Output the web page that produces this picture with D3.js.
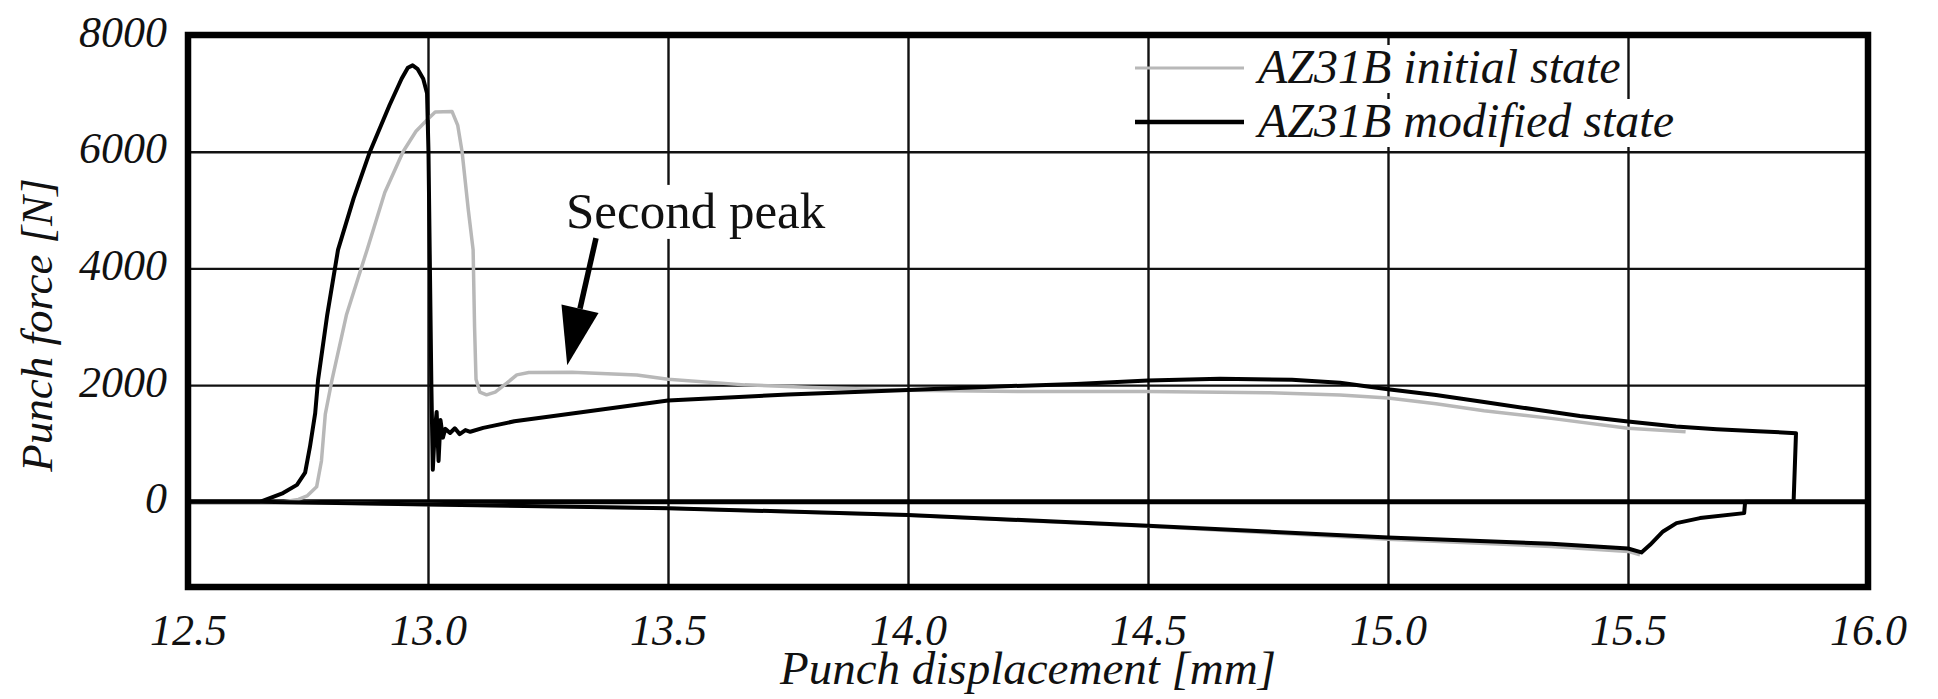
<!DOCTYPE html>
<html lang="en">
	<head>
		<meta charset="utf-8">
		<title>Punch force vs displacement</title>
		<script type="text/javascript" src="https://d3js.org/d3.v7.min.js"></script>
		<style>
			body { margin:0; background:#fff; }
			text { font-family:"Liberation Serif","Times New Roman",serif; fill:#111; }
		</style>
	</head>
	<body>
		<svg id="chart"></svg>
		<script>

			// tick values
			var xTicks = [12.5,13.0,13.5,14.0,14.5,15.0,15.5,16.0];
			var yTicks = [0,2000,4000,6000,8000];

			// AZ31B modified state (load, drop, unload)
			var blackX = [12.50,12.65,12.698,12.727,12.744,12.754,12.765,12.771,12.79,12.8125,12.845,12.879,12.92,12.945,12.958,12.968,12.978,12.99,12.998,13.001,13.004,13.007,13.010,13.014,13.018,13.022,13.026,13.031,13.036,13.046,13.056,13.066,13.078,13.088,13.115,13.18,13.254,13.358,13.5,13.75,14.0,14.2,14.35,14.5,14.65,14.8,14.9,15.0,15.1,15.2,15.3,15.4,15.5,15.6,15.685,15.77,15.85,15.845,15.744,15.742,15.65,15.601,15.573,15.546,15.528,15.5,15.34,15.0,14.5,14.0,13.5,13.0,12.65];
			var blackY = [0,0,150,290,500,940,1520,2090,3200,4317,5200,6000,6800,7250,7440,7480,7420,7250,7000,6000,4000,2000,550,1200,1540,700,1400,1100,1250,1180,1260,1160,1230,1200,1267,1380,1461,1576,1735,1840,1918,1980,2020,2078,2110,2090,2040,1930,1830,1710,1590,1470,1376,1290,1245,1210,1177,0,0,-194,-279,-365,-508,-737,-868,-800,-720,-610,-410,-225,-110,-45,0];

			// AZ31B initial state (load)
			var grayX = [12.5,12.70,12.73,12.748,12.768,12.778,12.786,12.80,12.83,12.873,12.91,12.948,12.975,13.0,13.015,13.05,13.062,13.071,13.084,13.094,13.097,13.10,13.108,13.122,13.14,13.164,13.185,13.21,13.3,13.435,13.5,13.66,13.8,14.0,14.25,14.5,14.75,14.9,15.0,15.1,15.2,15.34,15.5,15.62];
			var grayY = [0,0,40,100,257,700,1500,2090,3200,4317,5300,6000,6350,6560,6680,6690,6450,6000,5000,4317,3000,2100,1880,1833,1880,2033,2175,2215,2220,2175,2101,2004,1960,1910,1890,1890,1870,1830,1780,1680,1560,1430,1262,1200];
			// AZ31B initial state (unload)
			var grayBackX = [15.525,15.5,15.34,15.0,14.5,14.0,13.5,13.0,12.65];
			var grayBackY = [-908,-850,-765,-640,-420,-230,-112,-45,0];

			var seriesNames = ["AZ31B initial state","AZ31B modified state"];
			var seriesColors = ["#b8b8b8","#000"];

			var width = 1938;
			var height = 699;
			var border = {left:188,right:70,top:35,bottom:112};
			var plotW = width-border.left-border.right;
			var plotH = height-border.top-border.bottom;

			var chart = d3.select("#chart")
				.attr("width",width)
				.attr("height",height);

			chart.append("rect")
				.attr("width",width)
				.attr("height",height)
				.attr("fill","#fff");

			var xScale = d3.scaleLinear()
				.domain([12.5,16.0])
				.range([border.left,border.left+plotW]);

			var yScale = d3.scaleLinear()
				.domain([-1460,8000])
				.range([border.top+plotH,border.top]);

			// grid
			var xGrid = chart.append("g")
				.attr("transform","translate(0,"+(border.top+plotH)+")")
				.call(d3.axisBottom(xScale).tickValues(xTicks).tickSize(-plotH).tickFormat(""));
			var yGrid = chart.append("g")
				.attr("transform","translate("+border.left+",0)")
				.call(d3.axisLeft(yScale).tickValues(yTicks).tickSize(-plotW).tickFormat(""));
			chart.selectAll(".domain").remove();
			xGrid.selectAll("line").attr("stroke","#111").attr("stroke-width",2.4);
			yGrid.selectAll("line").attr("stroke","#111").attr("stroke-width",2.4);

			// zero line
			chart.append("line")
				.attr("x1",xScale(12.5)).attr("x2",xScale(16.0))
				.attr("y1",yScale(0)).attr("y2",yScale(0))
				.attr("stroke","#000")
				.attr("stroke-width",5);

			// curves
			var line = d3.line()
				.x(d=>xScale(d[0]))
				.y(d=>yScale(d[1]));

			var grayData = grayX.map((v,i)=>[v,grayY[i]]);
			var grayBackData = grayBackX.map((v,i)=>[v,grayBackY[i]]);
			var blackData = blackX.map((v,i)=>[v,blackY[i]]);

			[grayData,grayBackData].forEach(function(d){
				chart.append("path")
					.datum(d)
					.attr("d",line)
					.attr("fill","none")
					.attr("stroke",seriesColors[0])
					.attr("stroke-width",3.5)
					.attr("stroke-linejoin","round");
			});

			chart.append("path")
				.datum(blackData)
				.attr("d",line)
				.attr("fill","none")
				.attr("stroke",seriesColors[1])
				.attr("stroke-width",4)
				.attr("stroke-linejoin","round");

			// frame
			chart.append("rect")
				.attr("x",border.left)
				.attr("y",border.top)
				.attr("width",plotW)
				.attr("height",plotH)
				.attr("fill","none")
				.attr("stroke","#000")
				.attr("stroke-width",6.5);

			// tick labels
			var xAxis = chart.append("g")
				.attr("transform","translate(0,"+(border.top+plotH)+")")
				.call(d3.axisBottom(xScale).tickValues(xTicks).tickSize(0).tickFormat(d3.format(".1f")));
			xAxis.select(".domain").remove();
			xAxis.selectAll("text")
				.attr("y",0)
				.attr("dy",null)
				.attr("transform","translate(0,58)")
				.style("font-size","44px")
				.style("font-style","italic");

			var yAxis = chart.append("g")
				.attr("transform","translate("+border.left+",0)")
				.call(d3.axisLeft(yScale).tickValues(yTicks).tickSize(0).tickFormat(d3.format("d")));
			yAxis.select(".domain").remove();
			yAxis.selectAll("text")
				.attr("x",0)
				.attr("dy",null)
				.attr("transform","translate(-21,11)")
				.style("font-size","44px")
				.style("font-style","italic");

			// axis titles
			chart.append("text")
				.attr("transform","translate("+xScale(14.25)+",684)")
				.attr("text-anchor","middle")
				.style("font-size","47px")
				.style("font-style","italic")
				.text("Punch displacement [mm]");

			chart.append("text")
				.attr("transform","translate(52,"+yScale(3030)+") rotate(-90)")
				.attr("text-anchor","middle")
				.style("font-size","45px")
				.style("font-style","italic")
				.text("Punch force [N]");

			// legend
			var legendRows = [83,137];
			seriesNames.forEach(function(name,i){
				var g = chart.append("g")
					.attr("transform","translate(1258,"+legendRows[i]+")");
				var t = g.append("text")
					.style("font-size","48px")
					.style("font-style","italic")
					.text(name);
				var b = t.node().getBBox();
				g.insert("rect","text")
					.attr("x",b.x-4).attr("y",b.y+5)
					.attr("width",b.width+8).attr("height",b.height-5)
					.attr("fill","#fff");
				chart.append("line")
					.attr("x1",1135).attr("x2",1244)
					.attr("y1",legendRows[i]-15).attr("y2",legendRows[i]-15)
					.attr("stroke",seriesColors[i])
					.attr("stroke-width",i==0?3:4.5);
			});

			// annotation
			var noteText = [13.2875,4694];
			var arrowTail = [13.35,4520];
			var arrowTip = [13.29,2340];

			var note = chart.append("g")
				.attr("transform","translate("+xScale(noteText[0])+","+yScale(noteText[1])+")");
			var nt = note.append("text")
				.style("font-size","51px")
				.text("Second peak");
			var nb = nt.node().getBBox();
			note.insert("rect","text")
				.attr("x",nb.x-4).attr("y",nb.y+2)
				.attr("width",nb.width+8).attr("height",nb.height-2)
				.attr("fill","#fff");

			var tx = xScale(arrowTail[0]), ty = yScale(arrowTail[1]);
			var hx = xScale(arrowTip[0]), hy = yScale(arrowTip[1]);
			var ang = Math.atan2(hy-ty,hx-tx);
			var headLen = 58, headHalf = 19;
			var bx = hx-headLen*Math.cos(ang), by = hy-headLen*Math.sin(ang);
			chart.append("line")
				.attr("x1",tx).attr("y1",ty)
				.attr("x2",bx).attr("y2",by)
				.attr("stroke","#000")
				.attr("stroke-width",5.5);
			chart.append("path")
				.attr("d","M"+hx+","+hy
					+"L"+(bx+headHalf*Math.sin(ang))+","+(by-headHalf*Math.cos(ang))
					+"L"+(bx-headHalf*Math.sin(ang))+","+(by+headHalf*Math.cos(ang))+"Z")
				.attr("fill","#000");

		</script>
	</body>
</html>
